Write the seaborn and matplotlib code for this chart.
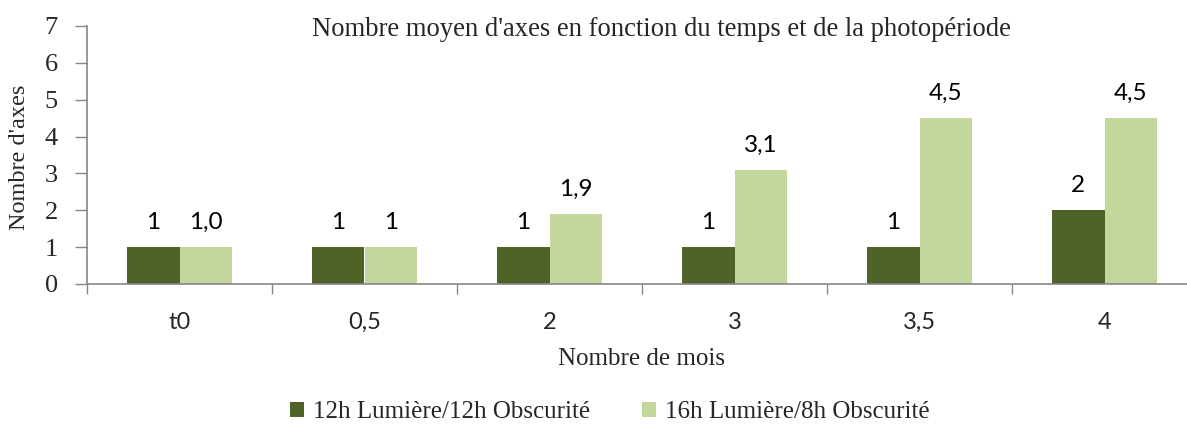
import matplotlib
matplotlib.use("Agg")
import matplotlib.pyplot as plt
from matplotlib.patches import Patch
import seaborn as sns
import pandas as pd

# Data
mois = ["t0", "0,5", "2", "3", "3,5", "4"]
serie_12h = [1, 1, 1, 1, 1, 2]
serie_16h = [1.0, 1, 1.9, 3.1, 4.5, 4.5]
decimales_12h = [0, 0, 0, 0, 0, 0]
decimales_16h = [1, 0, 1, 1, 1, 1]
noms_series = ["12h Lumière/12h Obscurité", "16h Lumière/8h Obscurité"]
couleurs = ["#4F6228", "#C3D69B"]

df = pd.DataFrame({
    "mois": mois * 2,
    "valeur": serie_12h + serie_16h,
    "serie": [noms_series[0]] * len(mois) + [noms_series[1]] * len(mois),
})

sns.set_theme(style="white")
SERIF = ["Liberation Serif", "DejaVu Serif"]
SANS = ["Lato", "DejaVu Sans"]
GRIS = "#868686"

fig = plt.figure(figsize=(11.87, 4.26), dpi=100)
ax = fig.add_axes([87 / 1187, 1 - 284 / 426, 1110 / 1187, (284 - 26) / 426])

sns.barplot(data=df, x="mois", y="valeur", hue="serie", order=mois,
            hue_order=noms_series, palette=couleurs, width=0.57, gap=0,
            saturation=1, legend=False, ax=ax, linewidth=0)

# Data labels
for cont, vals, decs in zip(ax.containers, [serie_12h, serie_16h],
                            [decimales_12h, decimales_16h]):
    labels = [f"{v:.{d}f}".replace(".", ",") for v, d in zip(vals, decs)]
    ax.bar_label(cont, labels=labels, padding=10, fontsize=17.5,
                 family=SANS, color="#000000")

ax.set_xlim(-0.5, len(mois) - 0.5)
ax.set_ylim(0, 7)
ax.set_yticks(range(0, 8))
ax.set_yticklabels([str(i) for i in range(0, 8)], family=SERIF, fontsize=19)

# Category separators as minor ticks on the x axis
ax.set_xticks([i - 0.5 for i in range(len(mois) + 1)], minor=True)
ax.tick_params(axis="x", which="minor", length=7, width=1, color=GRIS,
               direction="out", bottom=True)
ax.tick_params(axis="x", which="major", length=0, pad=20)
ax.tick_params(axis="y", which="major", length=9, width=1, color=GRIS,
               direction="out", left=True, pad=12)
for lab in ax.get_xticklabels():
    lab.set_fontfamily(SANS)
    lab.set_fontsize(17)

for side in ["top", "right"]:
    ax.spines[side].set_visible(False)
for side in ["left", "bottom"]:
    ax.spines[side].set_color(GRIS)
    ax.spines[side].set_linewidth(1.2)

ax.set_xlabel("Nombre de mois", family=SERIF, fontsize=18, labelpad=11)
ax.set_ylabel("Nombre d'axes", family=SERIF, fontsize=17.5)
ax.yaxis.set_label_coords(-0.051, 0.49)

fig.text(661 / 1187, 1 - 30 / 426,
         "Nombre moyen d'axes en fonction du temps et de la photopériode",
         ha="center", va="center", family=SERIF, fontsize=19.2)

handles = [Patch(facecolor=c, edgecolor="none") for c in couleurs]
fig.legend(handles, noms_series, loc="center", bbox_to_anchor=(610 / 1187, 1 - 412 / 426),
           ncol=2, frameon=False, prop={"family": SERIF, "size": 18},
           handlelength=0.55, handleheight=0.55, handletextpad=0.35, columnspacing=2.1)

fig.savefig("out.png", dpi=100)
